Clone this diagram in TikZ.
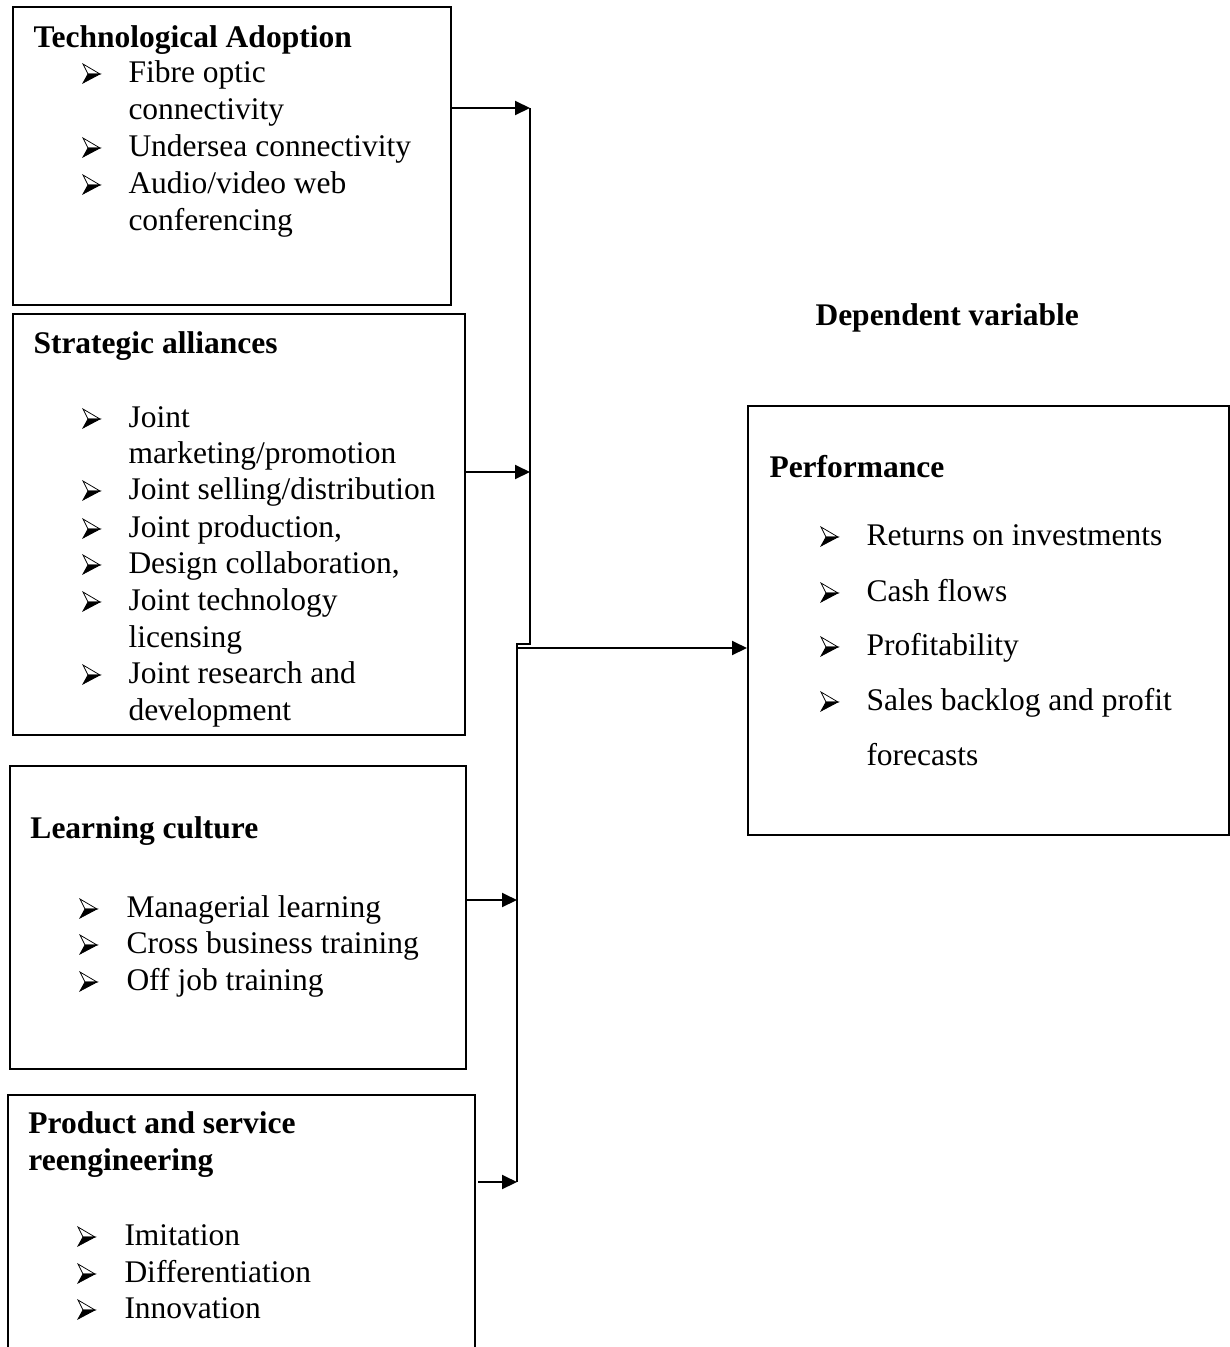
\documentclass[tikz,border=0pt]{standalone}
\usepackage{fontspec}
\setmainfont{Liberation Serif}
\usepackage{tikz}
\usetikzlibrary{arrows.meta}

\begin{document}
\begin{tikzpicture}[x=0.4pt,y=-0.4pt,
    box/.style={draw,line width=0.8pt,inner sep=0pt,anchor=north west},
    head/.style={anchor=base west,inner sep=0pt,font=\fontsize{12.6}{15}\selectfont\bfseries},
    itm/.style={anchor=base west,inner sep=0pt,font=\fontsize{12.6}{15}\selectfont},
    bullet/.pic={
      \filldraw[fill=white,line width=0.3pt,line join=miter](0,-18)--(17,-8)--(5,-8)--cycle;
      \filldraw[line width=0.3pt,line join=miter](5,-8)--(17,-8)--(0,1)--cycle;
    },
    conn/.style={line width=0.8pt},
    arr/.style={conn,-{Triangle[length=6pt,width=5.6pt]}}]
  \clip (0,0) rectangle (1230,1347);
  % boxes
  \node[box,minimum width=175.2pt,minimum height=119.2pt](tech)at(12,6){};
  \node[box,minimum width=180.8pt,minimum height=168.4pt](alli)at(12,313){};
  \node[box,minimum width=182.4pt,minimum height=121.2pt](learn)at(9,765){};
  \node[box,minimum width=186.8pt,minimum height=120pt](prod)at(7,1094){};
  \node[box,minimum width=192.4pt,minimum height=171.6pt](perf)at(747,405){};
  % technological adoption
  \node[head](techH)at(33,47){Technological Adoption};
  \foreach \y in {82,156,193} \pic at(83,\y){bullet};
  \foreach \y/\t in {82/{Fibre optic},119/{connectivity},156/{Undersea connectivity},193/{Audio/video web},230/{conferencing}}
    \node[itm](techI\y)at(128,\y){\t};
  % strategic alliances
  \node[head](alliH)at(33,353){Strategic alliances};
  \foreach \y in {427,499,537,573,610,683} \pic at(83,\y){bullet};
  \foreach \y/\t in {427/{Joint},463/{marketing/promotion},499/{Joint selling/distribution},537/{Joint production,},573/{Design collaboration,},610/{Joint technology},647/{licensing},683/{Joint research and},720/{development}}
    \node[itm](alliI\y)at(128,\y){\t};
  % learning culture
  \node[head](learnH)at(30,838){Learning culture};
  \foreach \y/\t in {917/{Managerial learning},953/{Cross business training},990/{Off job training}}{
    \pic at(80,\y){bullet};
    \node[itm](learnI\y)at(126,\y){\t};
  }
  % product and service reengineering
  \node[head](prodH)at(28,1133){Product and service};
  \node[head](prodH2)at(28,1170){reengineering};
  \foreach \y/\t in {1245/{Imitation},1282/{Differentiation},1318/{Innovation}}{
    \pic at(78,\y){bullet};
    \node[itm](prodI\y)at(124,\y){\t};
  }
  % dependent variable
  \node[head](dep)at(815,325){Dependent variable};
  \node[head](perfH)at(769,477){Performance};
  \foreach \y in {545,601,655,710} \pic at(821,\y){bullet};
  \foreach \y/\t in {545/{Returns on investments},601/{Cash flows},655/{Profitability},710/{Sales backlog and profit},765/{forecasts}}
    \node[itm](perfI\y)at(866,\y){\t};
  % connectors
  \coordinate(t1)at(530,108);
  \coordinate(t2)at(530,472);
  \coordinate(jn)at(530,644);
  \coordinate(b1)at(517,644);
  \coordinate(b0)at(517,648);
  \coordinate(b2)at(517,900);
  \coordinate(b3)at(517,1182);
  \draw[arr](tech.east |- t1)--(t1);
  \draw[arr](alli.east |- t2)--(t2);
  \draw[conn](t1)--(jn)--(b1)--(b3);
  \draw[arr](learn.east |- b2)--(b2);
  \draw[arr]([xshift=0.8pt]prod.east |- b3)--(b3);
  \draw[arr](b0)--(perf.west |- b0);
\end{tikzpicture}
\end{document}
